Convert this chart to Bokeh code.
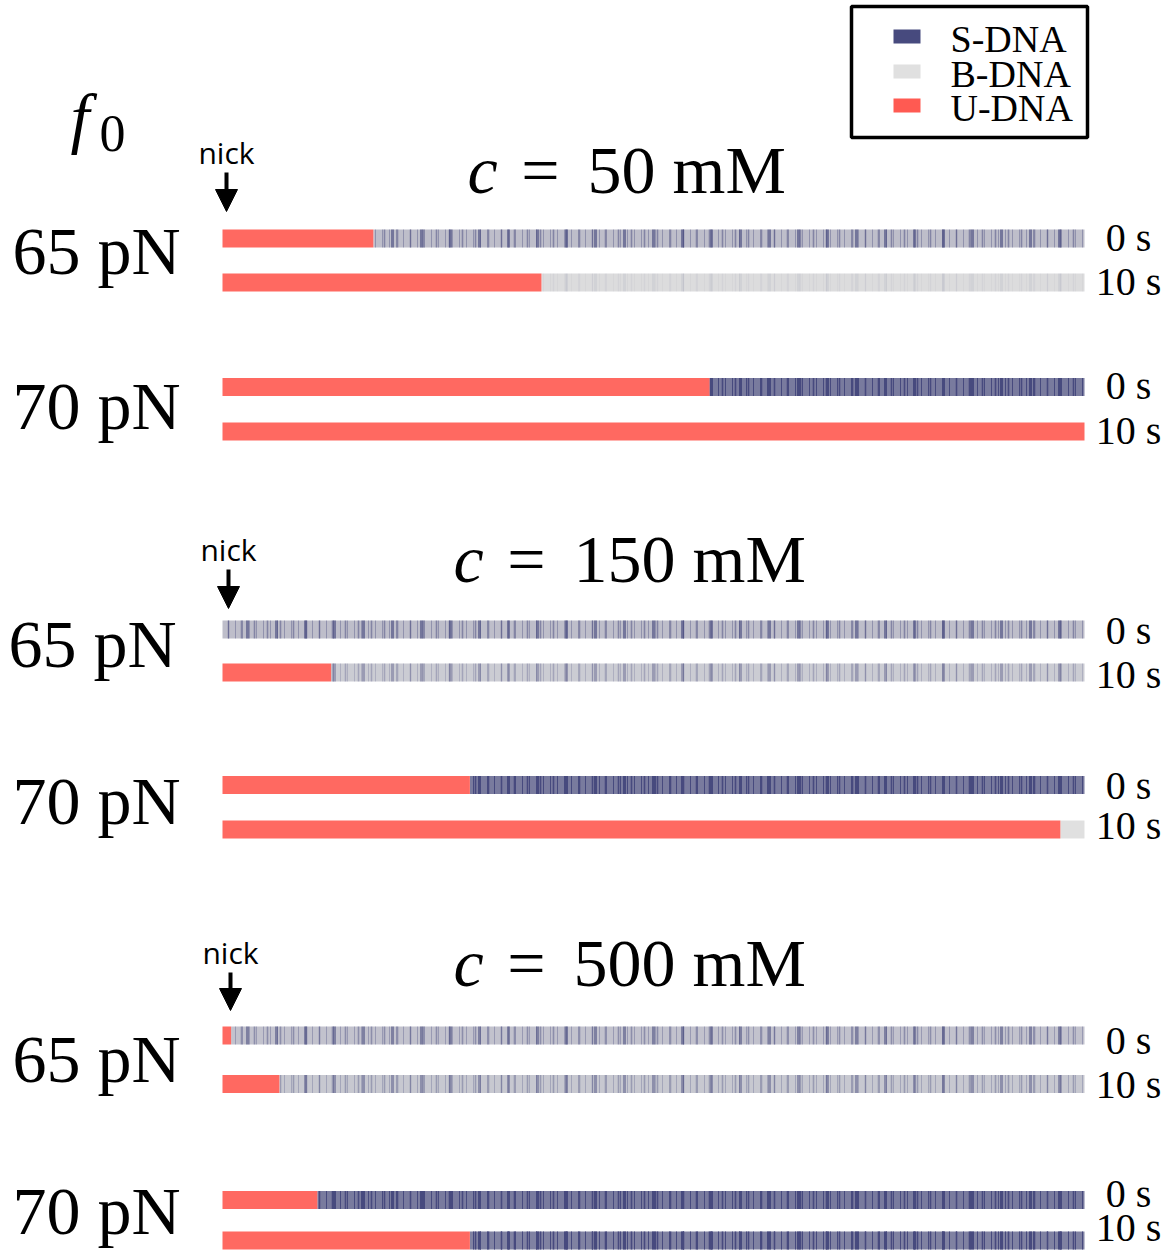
from bokeh.plotting import figure
from bokeh.models import Range1d, ColumnDataSource, Arrow, NormalHead
from bokeh.core.properties import value
from bokeh.embed import file_html
from bokeh.resources import INLINE

# ---------------- data ----------------
concentrations = ["50 mM", "150 mM", "500 mM"]
forces = ["65 pN", "70 pN"]
times = ["0 s", "10 s"]
# fraction of the molecule (from the nick) that is U-DNA, per bar
# order: conc -> force -> time
u_dna_fraction = [0.175, 0.370, 0.565, 1.000,
                  0.000, 0.126, 0.287, 0.972,
                  0.010, 0.066, 0.110, 0.287]
# share of S-DNA within the remaining (B/S mixed) part
s_dna_fraction = [0.25, 0.03, 0.75, 0.00,
                  0.25, 0.15, 0.75, 0.00,
                  0.22, 0.18, 0.75, 0.70]
legend_labels = ["S-DNA", "B-DNA", "U-DNA"]

# ---------------- layout / style ----------------
W, H = 1167, 1251
X0, X1 = 222, 1084          # pixel extent of a full DNA bar
bar_y = [238, 282, 386.5, 431, 629, 672, 784.5, 829, 1035, 1083.5, 1199.5, 1240]
bar_h = 18
time_label_base = [251, 295, 399, 444, 644, 688, 799, 839, 1054, 1098, 1207, 1241]
force_label_pos = [(12, 275), (12, 430), (8, 668), (12, 825), (12, 1083), (12, 1235)]
title_pos = [(467, 540, 587, 194), (453, 526, 573, 583), (453, 526, 573, 987)]
nick_pos = [(226, 165, 172, 211), (228, 562, 569, 608), (230, 965, 972, 1010)]

NAVY = "#474a7e"
GREY = "#e0e0e0"
RED = "#ff6961"
SERIF = "Liberation Serif"
SERIF_SHIFT = 0.36   # baseline correction of the svg text renderer (em)
SANS_SHIFT = 0.45


def blend(c1, c2, t):
    a = [int(c1[i:i + 2], 16) for i in (1, 3, 5)]
    b = [int(c2[i:i + 2], 16) for i in (1, 3, 5)]
    return "#%02x%02x%02x" % tuple(round(a[k] + (b[k] - a[k]) * t) for k in range(3))


p = figure(width=W, height=H, output_backend="svg", toolbar_location=None,
           x_range=Range1d(0, W), y_range=Range1d(H, 0),
           min_border=0, outline_line_color=None)
p.axis.visible = False
p.grid.visible = False
p.extra_x_ranges = {"dna": Range1d((0 - X0) / (X1 - X0), (W - X0) / (X1 - X0))}

n = len(u_dna_fraction)
src = ColumnDataSource(dict(
    u=u_dna_fraction,
    one=[1.0] * n,
    zero=[0.0] * n,
    top=[y - bar_h / 2 for y in bar_y],
    bottom=[y + bar_h / 2 for y in bar_y],
    mix=[blend(GREY, NAVY, 0.9 * s) for s in s_dna_fraction],
    ha1=[min(1.0, 2.0 * s) for s in s_dna_fraction],
    ha2=[min(1.0, 1.5 * s) for s in s_dna_fraction],
    ha3=[min(1.0, 2.5 * s) for s in s_dna_fraction],
))

# B/S mixed region
p.quad(left="u", right="one", top="top", bottom="bottom", source=src,
       fill_color="mix", line_color=None, x_range_name="dna")
# S-DNA stripes texture
p.quad(left="u", right="one", top="top", bottom="bottom", source=src,
       fill_alpha=0, line_color=None, x_range_name="dna",
       hatch_pattern="vertical_line", hatch_color=NAVY, hatch_alpha="ha1",
       hatch_scale=13, hatch_weight=1.6)
p.quad(left="u", right="one", top="top", bottom="bottom", source=src,
       fill_alpha=0, line_color=None, x_range_name="dna",
       hatch_pattern="vertical_line", hatch_color=NAVY, hatch_alpha="ha2",
       hatch_scale=7, hatch_weight=1.0)
p.quad(left="u", right="one", top="top", bottom="bottom", source=src,
       fill_alpha=0, line_color=None, x_range_name="dna",
       hatch_pattern="vertical_line", hatch_color=NAVY, hatch_alpha="ha3",
       hatch_scale=29, hatch_weight=3.0)
# U-DNA region
p.quad(left="zero", right="u", top="top", bottom="bottom", source=src,
       fill_color=RED, line_color=None, x_range_name="dna")


def serif_text(x, y, txt, size, italic=False, align="left"):
    p.text(x=[x], y=[y - SERIF_SHIFT * size], text=[txt], text_font=value(SERIF),
           text_font_style="italic" if italic else "normal",
           text_font_size=f"{size}px", text_align=align,
           text_baseline="alphabetic", text_color="black")


# ---------------- texts ----------------
serif_text(70, 142, "f", 68, italic=True)
serif_text(99, 152, "0", 52)

for gi, conc in enumerate(concentrations):
    cx, ex, nx, by = title_pos[gi]
    serif_text(cx, by, "c", 68, italic=True)
    serif_text(ex, by, "=", 68, align="center")
    serif_text(nx, by, conc, 68)
    # nick marker
    ax, ny, ay0, ay1 = nick_pos[gi]
    p.text(x=[ax], y=[ny - SANS_SHIFT * 30], text=["nick"], text_font=value("Open Sans"),
           text_font_size="30px", text_align="center", text_baseline="alphabetic",
           text_color="black")
    p.add_layout(Arrow(end=NormalHead(size=22, fill_color="black", line_color="black"),
                       x_start=ax, y_start=ay0, x_end=ax, y_end=ay1,
                       line_width=4, line_color="black"))

for k, (fx, fy) in enumerate(force_label_pos):
    serif_text(fx, fy, forces[k % 2], 68)

for k, yb in enumerate(time_label_base):
    serif_text(1128, yb, times[k % 2], 40, align="center")

# ---------------- legend ----------------
p.quad(left=[851], right=[1087], top=[6], bottom=[137], fill_color="white",
       line_color="black", line_width=3.5)
sw_colors = [NAVY, GREY, "#ff5a52"]
sw_y = [36, 71, 105]
lab_y = [52, 87, 121]
for i, lab in enumerate(legend_labels):
    p.quad(left=[893], right=[920], top=[sw_y[i] - 7], bottom=[sw_y[i] + 7],
           fill_color=sw_colors[i], line_color=None)
    serif_text(950, lab_y[i], lab, 38)

open("out.html", "w").write(file_html(p, INLINE))
